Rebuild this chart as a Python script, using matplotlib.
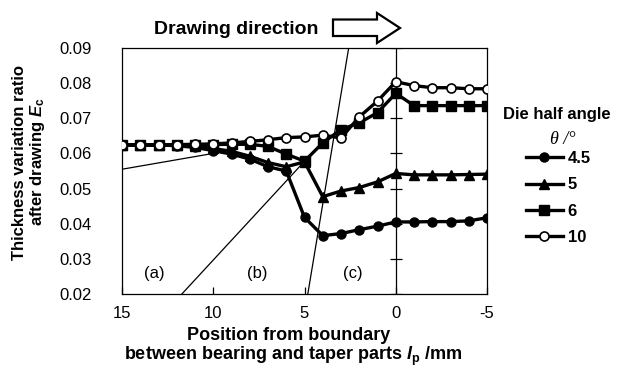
import matplotlib
matplotlib.use("Agg")
import matplotlib.pyplot as plt
from matplotlib.patches import Polygon
from matplotlib.lines import Line2D

plt.rcParams['font.family'] = ['Liberation Sans', 'DejaVu Sans']
plt.rcParams['mathtext.fontset'] = 'custom'
plt.rcParams['mathtext.rm'] = 'Liberation Sans:bold'
plt.rcParams['mathtext.it'] = 'Liberation Sans:italic:bold'
plt.rcParams['mathtext.bf'] = 'Liberation Sans:bold'

# position from boundary (mm)
pos = [15, 14, 13, 12, 11, 10, 9, 8, 7, 6, 5, 4, 3, 2, 1, 0, -1, -2, -3, -4, -5]

# thickness variation ratio for each die half angle
ec_45 = [0.0624, 0.0624, 0.0624, 0.0622, 0.0617, 0.0608, 0.0598, 0.0584, 0.0562, 0.0550, 0.0418,
         0.0366, 0.0372, 0.0383, 0.0393, 0.0405, 0.0405, 0.0406, 0.0406, 0.0408, 0.0417]
ec_5 = [0.0624, 0.0624, 0.0624, 0.0623, 0.0620, 0.0614, 0.0606, 0.0592, 0.0574, 0.0562, 0.0576,
        0.0477, 0.0493, 0.0503, 0.0519, 0.0543, 0.0539, 0.0539, 0.0539, 0.0540, 0.0541]
ec_6 = [0.0624, 0.0624, 0.0624, 0.0624, 0.0624, 0.0625, 0.0626, 0.0626, 0.0620, 0.0598, 0.0578,
        0.0630, 0.0668, 0.0687, 0.0716, 0.0771, 0.0736, 0.0736, 0.0736, 0.0736, 0.0736]
ec_10 = [0.0624, 0.0624, 0.0624, 0.0625, 0.0626, 0.0627, 0.0630, 0.0634, 0.0639, 0.0645, 0.0647,
         0.0652, 0.0644, 0.0704, 0.0749, 0.0804, 0.0793, 0.0787, 0.0787, 0.0784, 0.0784]

angles = ['4.5', '5', '6', '10']

# thin lines separating regions (a), (b), (c)
line_a_x = [15, 10]
line_a_y = [0.0555, 0.0600]
line_b_x = [11.72, 5.1]
line_b_y = [0.02, 0.0572]
line_c_x = [4.82, 2.58]
line_c_y = [0.02, 0.09]

yticks = [0.02, 0.03, 0.04, 0.05, 0.06, 0.07, 0.08, 0.09]
xticks = [15, 10, 5, 0, -5]

fig = plt.figure(figsize=(6.2, 3.72), dpi=100)
ax = fig.add_axes([0.1968, 0.2097, 0.5887, 0.6613])

# region boundaries
ax.plot(line_a_x, line_a_y, color='k', lw=0.9, zorder=1)
ax.plot(line_b_x, line_b_y, color='k', lw=0.9, zorder=1)
ax.plot(line_c_x, line_c_y, color='k', lw=0.9, zorder=1)

# vertical axis at 0 with crossing ticks
ax.axvline(0, color='k', lw=0.9, zorder=1)
ax.plot([0] * len(yticks), yticks, ls='none', marker='_', ms=8, mew=0.9, color='k', zorder=1)

kw = dict(color='k', lw=2.4, ms=6.5, zorder=3)
ax.plot(pos, ec_45, marker='o', **kw)
ax.plot(pos, ec_5, marker='^', **kw)
ax.plot(pos, ec_6, marker='s', **kw)
ax.plot(pos, ec_10, marker='o', mfc='white', mec='k', mew=1.2, **kw)

ax.set_xlim(15, -5)
ax.set_ylim(0.02, 0.09)
ax.set_xticks(xticks)
ax.set_xticklabels([str(v) for v in xticks])
ax.set_yticks(yticks)
ax.set_yticklabels(['%.2f' % v for v in yticks])
ax.tick_params(axis='x', direction='in', length=5, width=0.9, labelsize=12, pad=9)
ax.tick_params(axis='y', length=0, labelsize=12, pad=22)
for s in ax.spines.values():
    s.set_linewidth(0.9)

# region labels
ax.text(13.25, 0.0259, '(a)', ha='center', va='center', fontsize=12)
ax.text(7.6, 0.0259, '(b)', ha='center', va='center', fontsize=12)
ax.text(2.35, 0.0259, '(c)', ha='center', va='center', fontsize=12)

# axis titles
fig.text(0.048, 1 - 162 / 372, 'Thickness variation ratio\nafter drawing $E_{\\rm c}$',
         rotation=90, ha='center', va='center', fontsize=12, fontweight='bold',
         linespacing=1.05)
fig.text(289 / 620, 1 - 336 / 372, 'Position from boundary', ha='center', va='center',
         fontsize=13, fontweight='bold')
fig.text(293 / 620, 1 - 356 / 372, 'between bearing and taper parts $l_{\\rm p}$ /mm',
         ha='center', va='center', fontsize=13, fontweight='bold')

# drawing direction
fig.text(236 / 620, 1 - 29 / 372, 'Drawing direction', ha='center', va='center',
         fontsize=14, fontweight='bold')
arrow_px = [(333, 19.5), (377, 19.5), (377, 13), (400, 28), (377, 43), (377, 36), (333, 36)]
arrow = Polygon([(x / 620, 1 - y / 372) for x, y in arrow_px], closed=True,
                transform=fig.transFigure, fc='white', ec='k', lw=1.6)
fig.patches.append(arrow)

# legend
fig.text(557 / 620, 1 - 115 / 372, 'Die half angle', ha='center', va='center',
         fontsize=12, fontweight='bold')
fig.text(563 / 620, 1 - 139 / 372, 'θ /°', ha='center', va='center', fontsize=13,
         family='Liberation Serif', style='italic')
handles = [
    Line2D([], [], color='k', lw=2.4, marker='o', ms=6.5),
    Line2D([], [], color='k', lw=2.4, marker='^', ms=6.5),
    Line2D([], [], color='k', lw=2.4, marker='s', ms=6.5),
    Line2D([], [], color='k', lw=2.4, marker='o', ms=6.5, mfc='white', mew=1.2),
]
fig.legend(handles, angles, loc='upper left', bbox_to_anchor=(526 / 620, 1 - 151 / 372),
           frameon=False, prop={'weight': 'bold', 'size': 12}, handlelength=2.2,
           handletextpad=0.3, labelspacing=0.68, borderpad=0, borderaxespad=0)

fig.savefig('out.png', dpi=100)
